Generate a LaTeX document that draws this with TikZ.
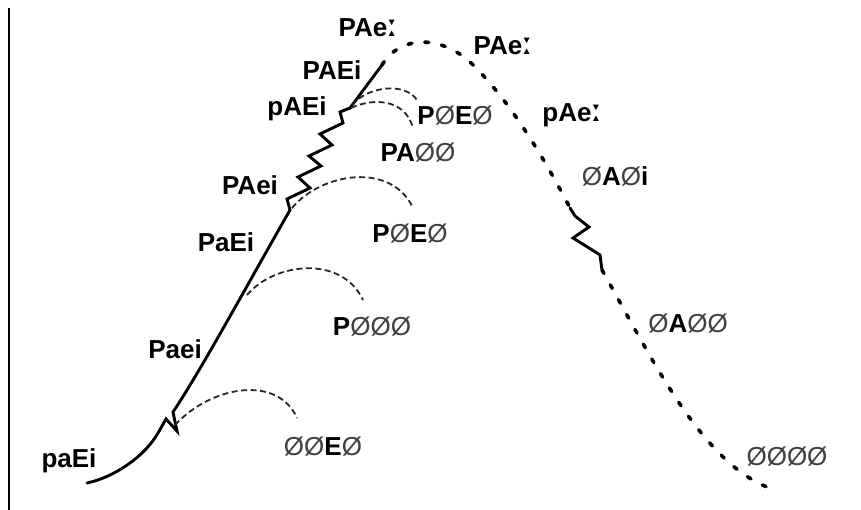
\documentclass[tikz,border=0pt]{standalone}
\usepackage{fontspec}
\setmainfont{Liberation Sans}
\newfontfamily\dvfont{DejaVu Sans}
\newcommand\zo{{\mdseries\color{black!75}Ø}}
\newcommand\lm{{\dvfont\bfseries\fontsize{30}{30}\selectfont ː}}
\begin{document}
\begin{tikzpicture}[x=1pt,y=-1pt,
  lab/.style={anchor=base,inner sep=0pt,font=\fontsize{26}{28}\selectfont\bfseries},
  solidline/.style={line width=2.9pt,line join=miter,line cap=round},
  dotline/.style={line width=3.6pt,dash pattern=on 4pt off 13pt,line cap=round},
  arcline/.style={line width=1.8pt,black!85,dash pattern=on 6pt off 3.5pt}]
\useasboundingbox (0,0) rectangle (861,510);
\draw[line width=2pt] (9,8) -- (9,510);
% coordinates
\coordinate (s0) at (87,483);
\coordinate (z1a) at (158,433);
\coordinate (z1b) at (173,412);
\coordinate (z2a) at (290,210);
\coordinate (z2b) at (340,112);
\coordinate (z2c) at (350,108);
\coordinate (top) at (382,65);
\coordinate (z3a) at (570,208);
\coordinate (z3b) at (602,270);
\coordinate (e) at (767,487);
% solid rising line
\draw[solidline] (s0) .. controls (115,477) and (145,456) .. (z1a)
  -- (166,419) -- (177,431) -- (z1b)
  .. controls (200,372) and (250,280) .. (z2a)
  -- (287,199) -- (310,188) -- (298,177) -- (321,166) -- (309,156)
  -- (332,145) -- (320,134) -- (343,123)
  -- (z2b) -- (z2c) -- (top);
% dotted falling curve
\draw[dotline] (top) .. controls (400,35) and (440,35) .. (470,62)
  .. controls (510,100) and (545,160) .. (z3a);
\draw[solidline] (z3a) -- (575,216) -- (589,227) -- (573,238) -- (597,253) -- (600,255) -- (z3b);
\draw[dotline] (z3b) .. controls (650,355) and (700,460) .. (e);
% dashed arcs
\coordinate (a1) at (175,425);
\coordinate (a1e) at (297,418);
\coordinate (a2) at (247,295);
\coordinate (a2e) at (363,300);
\coordinate (a3) at (292,208);
\coordinate (a3e) at (413,208);
\coordinate (a4) at (352,105);
\coordinate (a4e) at (417,100);
\coordinate (a5) at (351,108);
\coordinate (a5e) at (413,128);
\draw[arcline] (a1) .. controls (212,385) and (278,375) .. (a1e);
\draw[arcline] (a2) .. controls (275,262) and (342,255) .. (a2e);
\draw[arcline] (a3) .. controls (322,172) and (392,162) .. (a3e);
\draw[arcline] (a4) .. controls (368,86) and (405,82) .. (a4e);
\draw[arcline] (a5) .. controls (372,98) and (405,98) .. (a5e);
% labels
\node[lab] (n1) at (69,467) {paEi};
\node[lab] (n2) at (175,358) {Paei};
\node[lab] (n3) at (226,252) {PaEi};
\node[lab] (n4) at (250,195) {PAei};
\node[lab] (n5) at (297,116) {pAEi};
\node[lab] (n6) at (332,80) {PAEi};
\node[lab] (n7) at (368,37) {PAe\lm};
\node[lab] (n8) at (503,55) {PAe\lm};
\node[lab] (n9) at (572,122) {pAe\lm};
\node[lab] (n10) at (615,186) {\zo A\zo i};
\node[lab] (n11) at (688,332) {\zo A\zo\zo};
\node[lab] (n12) at (787,465) {\zo\zo\zo\zo};
\node[lab] (n13) at (323,455) {\zo\zo E\zo};
\node[lab] (n14) at (372,335) {P\zo\zo\zo};
\node[lab] (n15) at (410,243) {P\zo E\zo};
\node[lab] (n16) at (455,125) {P\zo E\zo};
\node[lab] (n17) at (418,162) {PA\zo\zo};
\end{tikzpicture}
\end{document}
